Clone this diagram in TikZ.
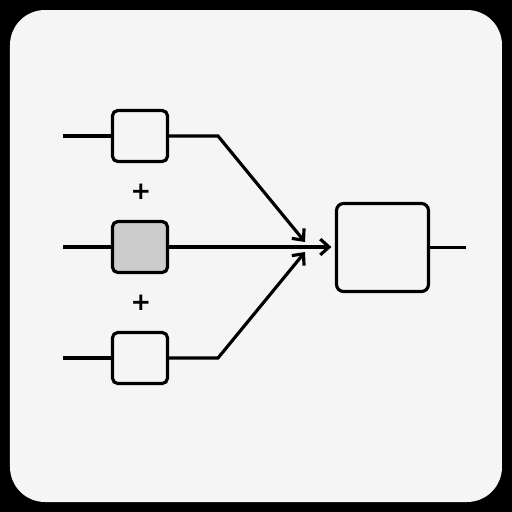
\documentclass[tikz,border=0pt]{standalone}
\usepackage{fontspec}
\setsansfont{DejaVu Sans}
\usepackage{tikz}
\usetikzlibrary{arrows.meta}
\usetikzlibrary{calc}

\begin{document}
\begin{tikzpicture}[x=0.02cm, y=-0.02cm, line width=1.8pt,
        box_style/.style={rectangle,draw=black,line width=1.8pt,rounded corners=3pt,fill=white!96!black,minimum width=1.1cm,minimum height=1.02cm,inner sep=0pt},
        gain_box_style/.style={box_style,fill=black!20},
        sum_box_style/.style={rectangle,draw=black,line width=1.8pt,rounded corners=4pt,fill=white!96!black,minimum width=1.84cm,minimum height=1.76cm,inner sep=0pt},
        plus_style/.style={font=\sffamily\bfseries\fontsize{14}{16}\selectfont,inner sep=0pt},
        edge_style/.style={draw=black,line width=1.8pt,-},
        arrow_style/.style={draw=black,line width=1.8pt,-{Straight Barb[length=5pt,width=9pt]}}]

        % frame
        \fill [black] (0,0) rectangle (512,512);
        \fill [white!96!black, rounded corners=0.7cm] (10,10) rectangle (502,502);

        \node [box_style](b1) at (140,136) {};
        \node [gain_box_style](b2) at (140,247) {};
        \node [box_style](b3) at (140,358) {};
        \node [sum_box_style](s) at (382.5,247.5) {};
        \node [plus_style](p1) at (141,192) {+};
        \node [plus_style](p2) at (141,303) {+};

        \coordinate (l1) at (63,136);
        \coordinate (l2) at (63,247);
        \coordinate (l3) at (63,358);
        \coordinate (c1) at (218,136);
        \coordinate (c3) at (218,358);
        \coordinate (t1) at (305,242);
        \coordinate (t3) at (305,252);
        \coordinate (o) at (466,247.5);

        \draw [edge_style] (l1) -- (b1);
        \draw [edge_style] (l2) -- (b2);
        \draw [edge_style] (l3) -- (b3);
        \draw [arrow_style] (b1.east) -- (c1) -- (t1);
        \draw [arrow_style, shorten >=2pt] (b2.east) -- (s.west |- b2.east);
        \draw [arrow_style] (b3.east) -- (c3) -- (t3);
        \draw [edge_style] (s) -- (o);
\end{tikzpicture}
\end{document}
